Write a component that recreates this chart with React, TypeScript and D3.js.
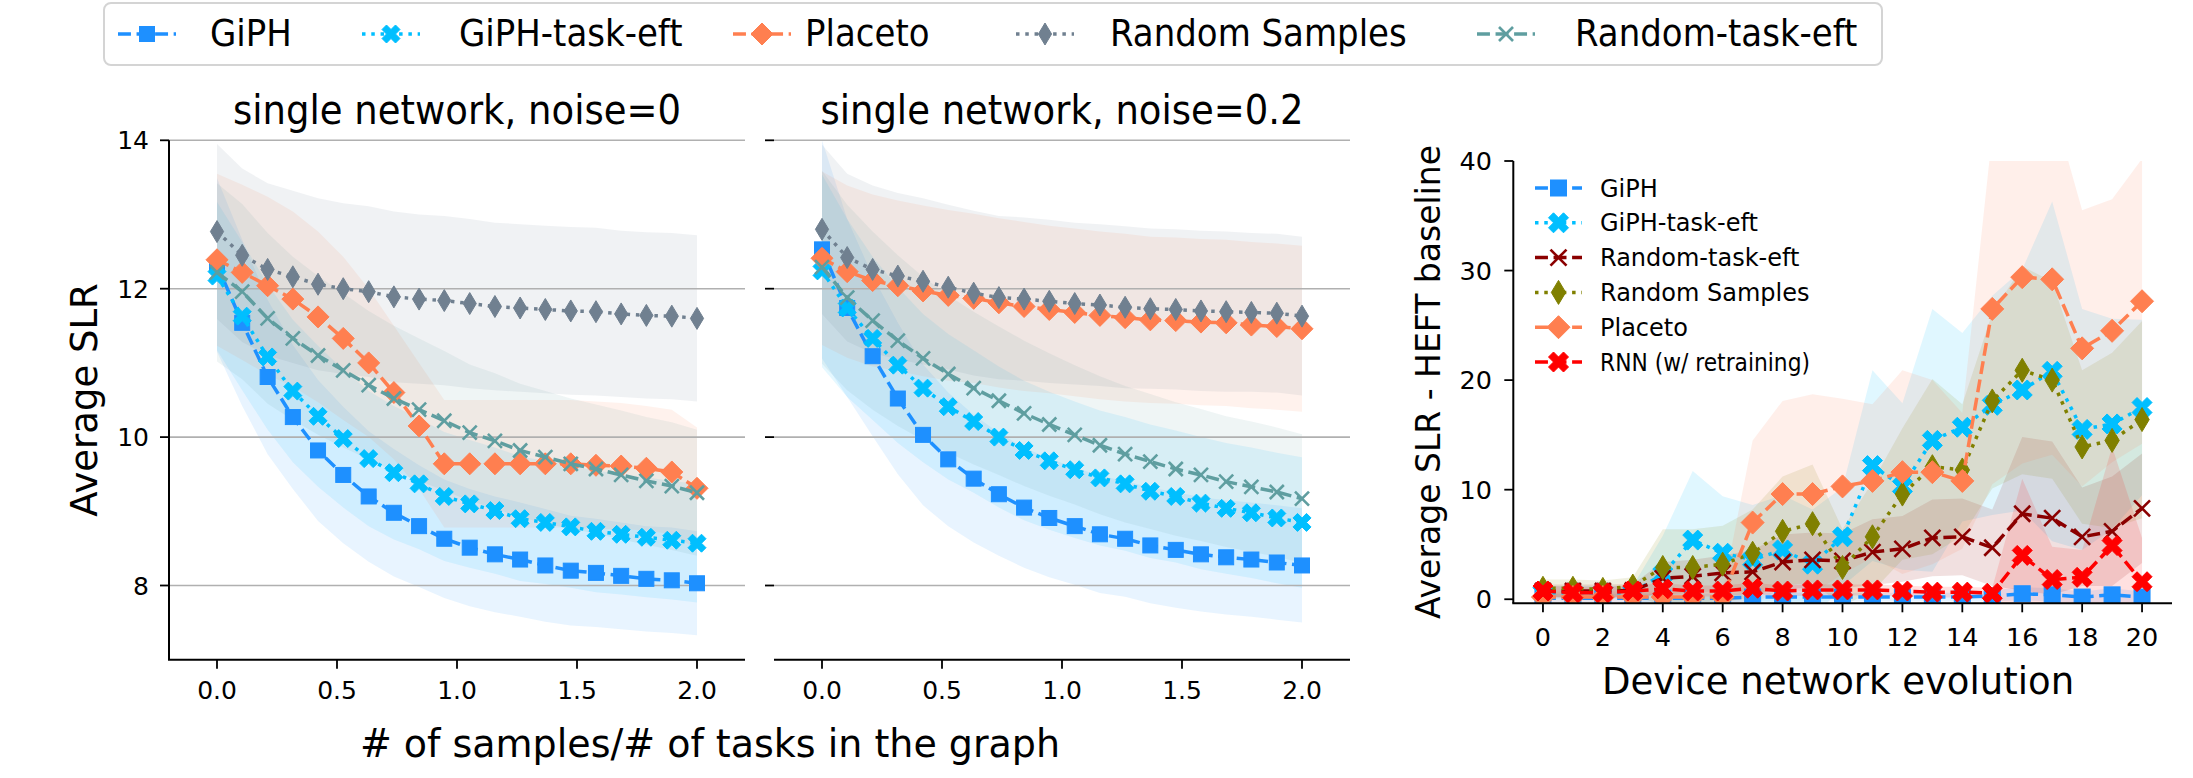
import React from 'react';
import * as d3 from 'd3';

// ---------- data ----------
const xFrac = [0, 0.105, 0.211, 0.316, 0.421, 0.526, 0.632, 0.737, 0.842, 0.947, 1.053, 1.158, 1.263, 1.368, 1.474, 1.579, 1.684, 1.789, 1.895, 2.0];
const fracTicks = [0.0, 0.5, 1.0, 1.5, 2.0];
const slrTicks = [8, 10, 12, 14];

// panel 1: noise = 0
const giph1 = [12.32, 11.54, 10.81, 10.27, 9.82, 9.49, 9.20, 8.98, 8.80, 8.63, 8.51, 8.42, 8.35, 8.27, 8.20, 8.17, 8.13, 8.09, 8.07, 8.03];
const giph1Sd = [1.17, 1.12, 1.04, 0.97, 0.95, 0.92, 0.88, 0.86, 0.82, 0.80, 0.79, 0.78, 0.77, 0.76, 0.74, 0.73, 0.72, 0.71, 0.71, 0.70];
const giphTask1 = [12.17, 11.63, 11.08, 10.62, 10.28, 9.98, 9.71, 9.52, 9.37, 9.20, 9.10, 9.01, 8.90, 8.85, 8.79, 8.73, 8.69, 8.65, 8.61, 8.57];
const giphTask1Sd = [1.0, 1.0, 0.98, 0.96, 0.95, 0.93, 0.91, 0.9, 0.88, 0.87, 0.86, 0.85, 0.84, 0.83, 0.82, 0.82, 0.81, 0.81, 0.8, 0.8];
const placeto1 = [12.39, 12.22, 12.04, 11.86, 11.62, 11.33, 11.00, 10.60, 10.15, 9.64, 9.64, 9.64, 9.64, 9.64, 9.64, 9.62, 9.61, 9.58, 9.53, 9.31];
const placeto1Sd = [1.16, 1.18, 1.2, 1.18, 1.15, 1.1, 1.0, 0.9, 0.85, 0.86, 0.86, 0.86, 0.86, 0.86, 0.86, 0.86, 0.85, 0.84, 0.84, 0.82];
const randSamp1 = [12.77, 12.45, 12.26, 12.16, 12.06, 12.00, 11.96, 11.89, 11.86, 11.84, 11.80, 11.76, 11.74, 11.72, 11.70, 11.69, 11.66, 11.64, 11.63, 11.60];
const randSamp1Sd = [1.18, 1.17, 1.16, 1.16, 1.16, 1.15, 1.15, 1.15, 1.14, 1.14, 1.14, 1.13, 1.13, 1.13, 1.13, 1.13, 1.12, 1.12, 1.12, 1.12];
const randTask1 = [12.22, 11.96, 11.60, 11.33, 11.10, 10.90, 10.70, 10.52, 10.37, 10.22, 10.06, 9.95, 9.82, 9.73, 9.64, 9.57, 9.49, 9.41, 9.34, 9.25];
const randTask1Sd = [1.2, 1.18, 1.15, 1.1, 1.07, 1.04, 1.0, 0.98, 0.96, 0.94, 0.92, 0.91, 0.9, 0.89, 0.88, 0.87, 0.87, 0.86, 0.86, 0.85];

// panel 2: noise = 0.2
const giph2 = [12.53, 11.74, 11.09, 10.52, 10.03, 9.70, 9.44, 9.23, 9.05, 8.91, 8.80, 8.69, 8.63, 8.54, 8.48, 8.42, 8.38, 8.35, 8.31, 8.27];
const giph2Sd = [1.47, 1.2, 1.08, 1.02, 0.95, 0.9, 0.86, 0.83, 0.81, 0.8, 0.79, 0.79, 0.78, 0.78, 0.78, 0.77, 0.77, 0.77, 0.77, 0.77];
const giphTask2 = [12.24, 11.74, 11.33, 10.97, 10.66, 10.41, 10.21, 10.00, 9.82, 9.68, 9.56, 9.45, 9.37, 9.27, 9.20, 9.11, 9.04, 8.98, 8.91, 8.85];
const giphTask2Sd = [1.3, 1.2, 1.1, 1.05, 1.0, 0.98, 0.96, 0.95, 0.94, 0.93, 0.92, 0.91, 0.9, 0.9, 0.89, 0.89, 0.88, 0.88, 0.88, 0.88];
const placeto2 = [12.41, 12.23, 12.11, 12.04, 11.97, 11.91, 11.87, 11.81, 11.76, 11.72, 11.68, 11.64, 11.61, 11.58, 11.57, 11.55, 11.54, 11.51, 11.49, 11.46];
const placeto2Sd = [1.17, 1.16, 1.16, 1.15, 1.15, 1.15, 1.14, 1.14, 1.14, 1.13, 1.13, 1.13, 1.13, 1.12, 1.12, 1.12, 1.12, 1.12, 1.12, 1.12];
const randSamp2 = [12.80, 12.42, 12.26, 12.17, 12.10, 12.02, 11.94, 11.88, 11.86, 11.83, 11.80, 11.78, 11.75, 11.73, 11.72, 11.70, 11.69, 11.68, 11.67, 11.63];
const randSamp2Sd = [1.14, 1.13, 1.13, 1.12, 1.12, 1.11, 1.11, 1.1, 1.1, 1.1, 1.09, 1.09, 1.09, 1.08, 1.08, 1.08, 1.08, 1.07, 1.07, 1.07];
const randTask2 = [12.29, 11.88, 11.57, 11.30, 11.06, 10.85, 10.66, 10.49, 10.32, 10.17, 10.03, 9.89, 9.77, 9.67, 9.57, 9.49, 9.40, 9.33, 9.26, 9.17];
const randTask2Sd = [1.3, 1.25, 1.2, 1.15, 1.1, 1.06, 1.03, 1.0, 0.98, 0.96, 0.94, 0.93, 0.92, 0.91, 0.9, 0.89, 0.88, 0.88, 0.87, 0.87];

// panel 3: device network evolution
const evo = [0, 1, 2, 3, 4, 5, 6, 7, 8, 9, 10, 11, 12, 13, 14, 15, 16, 17, 18, 19, 20];
const evoTicks = [0, 2, 4, 6, 8, 10, 12, 14, 16, 18, 20];
const diffTicks = [0, 10, 20, 30, 40];
const giph3 = [0.1, 0.1, 0.1, 0.1, 0.1, 0.1, 0.1, 0.2, 0.2, 0.2, 0.2, 0.2, 0.2, 0.2, 0.2, 0.3, 0.5, 0.4, 0.2, 0.4, 0.2];
const giph3Sd = [0.4, 0.4, 0.4, 0.4, 0.4, 0.4, 0.4, 0.4, 0.4, 0.4, 0.4, 0.4, 0.4, 0.4, 0.4, 0.5, 0.6, 0.6, 0.5, 0.6, 0.5];
const giphTask3 = [0.6, 0.6, 0.6, 0.6, 2.3, 5.4, 4.2, 3.6, 4.5, 3.2, 5.7, 12.2, 10.3, 14.5, 15.7, 17.7, 19.1, 20.8, 15.5, 16.0, 17.5];
const giphTask3Sd = [0.6, 0.6, 0.6, 0.6, 3.5, 6.3, 5.2, 5.0, 5.0, 5.0, 4.5, 8.7, 7.6, 12.0, 8.6, 10.0, 11.0, 15.5, 11.0, 9.6, 8.0];
const randTask3 = [0.75, 0.75, 0.75, 0.8, 1.9, 2.1, 2.4, 2.5, 3.4, 3.6, 3.5, 4.3, 4.6, 5.6, 5.7, 4.7, 7.8, 7.4, 5.7, 6.2, 8.3];
const randTask3Sd = [0.6, 0.6, 0.6, 0.6, 1.5, 1.5, 1.6, 2.0, 2.5, 2.5, 2.5, 3.0, 3.0, 3.5, 3.5, 3.5, 7.0, 7.0, 4.5, 5.0, 5.0];
const randSamp3 = [1.0, 1.0, 0.9, 1.2, 2.9, 2.9, 3.2, 4.2, 6.2, 6.9, 2.9, 5.7, 9.6, 12.1, 11.8, 18.1, 20.9, 20.0, 13.9, 14.5, 16.4];
const randSamp3Sd = [0.8, 0.8, 0.8, 0.8, 3.5, 3.5, 3.5, 4.0, 5.0, 5.4, 3.5, 5.0, 6.0, 8.0, 6.0, 8.0, 9.5, 9.0, 7.0, 8.0, 9.0];
const placeto3 = [0.2, 0.2, 0.2, 0.2, 0.2, 0.2, 0.2, 7.0, 9.6, 9.6, 10.3, 10.8, 11.6, 11.6, 10.8, 26.5, 29.4, 29.2, 22.9, 24.5, 27.2];
const placeto3Sd = [0.5, 0.5, 0.5, 0.5, 0.5, 0.5, 0.5, 7.5, 8.5, 9.1, 8.0, 7.0, 9.3, 8.4, 6.2, 16, 17, 16, 12.6, 12, 13];
const rnn3 = [0.75, 0.6, 0.6, 0.75, 0.95, 0.75, 0.75, 1.0, 0.75, 0.85, 0.85, 0.85, 0.75, 0.65, 0.65, 0.55, 4.0, 1.8, 2.0, 4.9, 1.6];
const rnn3Sd = [0.5, 0.5, 0.5, 0.5, 0.5, 0.5, 0.5, 0.5, 0.5, 0.5, 0.5, 0.5, 0.5, 0.5, 0.5, 0.5, 7.0, 3.0, 2.5, 9.0, 4.0];

// ---------- styles ----------
const FONT = '"DejaVu Sans", "Liberation Sans", sans-serif';
const LW = 3.5;
const DASH = `${3.7 * LW},${1.6 * LW}`;
const DOT = `${1 * LW},${1.65 * LW}`;

const C = {
  giph: '#1E90FF', giphTask: '#00BFFF', placeto: '#FF7F50', randSamp: '#708090',
  randTask: '#5F9EA0', randTask3: '#8B0000', randSamp3: '#808000', rnn: '#FF0000',
};

type Kind = 'square' | 'Xfill' | 'diamond' | 'thin' | 'x';
interface Series { name: string; color: string; dash: string; marker: Kind; mean: number[]; sd: number[]; }

const panel1Series: Series[] = [
  { name: 'GiPH', color: C.giph, dash: DASH, marker: 'square', mean: giph1, sd: giph1Sd },
  { name: 'GiPH-task-eft', color: C.giphTask, dash: DOT, marker: 'Xfill', mean: giphTask1, sd: giphTask1Sd },
  { name: 'Placeto', color: C.placeto, dash: DASH, marker: 'diamond', mean: placeto1, sd: placeto1Sd },
  { name: 'Random Samples', color: C.randSamp, dash: DOT, marker: 'thin', mean: randSamp1, sd: randSamp1Sd },
  { name: 'Random-task-eft', color: C.randTask, dash: DASH, marker: 'x', mean: randTask1, sd: randTask1Sd },
];
const panel2Series: Series[] = [
  { name: 'GiPH', color: C.giph, dash: DASH, marker: 'square', mean: giph2, sd: giph2Sd },
  { name: 'GiPH-task-eft', color: C.giphTask, dash: DOT, marker: 'Xfill', mean: giphTask2, sd: giphTask2Sd },
  { name: 'Placeto', color: C.placeto, dash: DASH, marker: 'diamond', mean: placeto2, sd: placeto2Sd },
  { name: 'Random Samples', color: C.randSamp, dash: DOT, marker: 'thin', mean: randSamp2, sd: randSamp2Sd },
  { name: 'Random-task-eft', color: C.randTask, dash: DASH, marker: 'x', mean: randTask2, sd: randTask2Sd },
];
const panel3Series: Series[] = [
  { name: 'GiPH', color: C.giph, dash: DASH, marker: 'square', mean: giph3, sd: giph3Sd },
  { name: 'GiPH-task-eft', color: C.giphTask, dash: DOT, marker: 'Xfill', mean: giphTask3, sd: giphTask3Sd },
  { name: 'Random-task-eft', color: C.randTask3, dash: DASH, marker: 'x', mean: randTask3, sd: randTask3Sd },
  { name: 'Random Samples', color: C.randSamp3, dash: DOT, marker: 'thin', mean: randSamp3, sd: randSamp3Sd },
  { name: 'Placeto', color: C.placeto, dash: DASH, marker: 'diamond', mean: placeto3, sd: placeto3Sd },
  { name: 'RNN (w/ retraining)', color: C.rnn, dash: DASH, marker: 'Xfill', mean: rnn3, sd: rnn3Sd },
];

const MS12: Record<Kind, number> = { square: 15, Xfill: 18, diamond: 22, thin: 22, x: 14 };
const MS3: Record<Kind, number> = { square: 16, Xfill: 20, diamond: 23, thin: 24, x: 16 };

const XPTS = [[-0.25, -0.5], [0, -0.25], [0.25, -0.5], [0.5, -0.25], [0.25, 0], [0.5, 0.25], [0.25, 0.5], [0, 0.25], [-0.25, 0.5], [-0.5, 0.25], [-0.25, 0], [-0.5, -0.25]];

function Marker({ kind, x, y, color, s }: { kind: Kind; x: number; y: number; color: string; s: number }) {
  if (kind === 'square') return <rect x={x - s / 2} y={y - s / 2} width={s} height={s} fill={color} stroke={color} strokeWidth={1} />;
  if (kind === 'Xfill') {
    const pts = XPTS.map(([a, b]) => `${x + a * s},${y + b * s}`).join(' ');
    return <polygon points={pts} fill={color} stroke={color} strokeWidth={1} strokeLinejoin="miter" />;
  }
  if (kind === 'diamond') return <polygon points={`${x},${y - s / 2} ${x + s / 2},${y} ${x},${y + s / 2} ${x - s / 2},${y}`} fill={color} stroke={color} strokeWidth={1} />;
  if (kind === 'thin') return <polygon points={`${x},${y - s / 2} ${x + s * 0.3},${y} ${x},${y + s / 2} ${x - s * 0.3},${y}`} fill={color} stroke={color} strokeWidth={1} />;
  return (
    <g stroke={color} strokeWidth={2.6}>
      <line x1={x - s / 2} y1={y - s / 2} x2={x + s / 2} y2={y + s / 2} />
      <line x1={x - s / 2} y1={y + s / 2} x2={x + s / 2} y2={y - s / 2} />
    </g>
  );
}

function T({ x, y, size, anchor = 'start', rotate = 0, sy = 1, children, textLength }: any) {
  let tr = `translate(${x},${y})`;
  if (rotate) tr += ` rotate(${rotate})`;
  if (sy !== 1) tr += ` scale(1,${sy})`;
  return (
    <text transform={tr} fontSize={size} textAnchor={anchor} fontFamily={FONT} fill="#000"
      textLength={textLength} lengthAdjust={textLength ? 'spacingAndGlyphs' : undefined}>{children}</text>
  );
}

function SeriesBands({ series, xs, x, y, alpha, clipId }: any) {
  return (
    <g clipPath={clipId ? `url(#${clipId})` : undefined}>
      {series.map((s: Series, k: number) => {
        const area = d3.area<number>()
          .x((_, i) => x(xs[i]))
          .y0((_, i) => y(s.mean[i] - s.sd[i]))
          .y1((_, i) => y(s.mean[i] + s.sd[i]));
        return <path key={k} d={area(s.mean) || ''} fill={s.color} fillOpacity={alpha} stroke="none" />;
      })}
    </g>
  );
}

function SeriesLines({ series, xs, x, y, ms }: any) {
  return (
    <g>
      {series.map((s: Series, k: number) => {
        const line = d3.line<number>().x((_, i) => x(xs[i])).y((d) => y(d));
        return (
          <g key={k}>
            <path d={line(s.mean) || ''} fill="none" stroke={s.color} strokeWidth={LW} strokeDasharray={s.dash} />
            {s.mean.map((v, i) => <Marker key={i} kind={s.marker} x={x(xs[i])} y={y(v)} color={s.color} s={ms[s.marker]} />)}
          </g>
        );
      })}
    </g>
  );
}

function SlrPanel({ series, left, showLeft, title }: { series: Series[]; left: number; showLeft: boolean; title: string }) {
  const x = d3.scaleLinear().domain([-0.2, 2.2]).range([left, left + 576]);
  const y = d3.scaleLinear().domain([7, 14]).range([659.7, 140.3]);
  const [x0, x1] = x.range();
  return (
    <g>
      <SeriesBands series={series} xs={xFrac} x={x} y={y} alpha={0.1} />
      {slrTicks.map((t) => (
        <line key={t} x1={x0} x2={x1} y1={y(t)} y2={y(t)} stroke="#b0b0b0" strokeWidth={1.6} />
      ))}
      <SeriesLines series={series} xs={xFrac} x={x} y={y} ms={MS12} />
      {showLeft && <line x1={x0} x2={x0} y1={140.3} y2={659.7} stroke="#000" strokeWidth={2} />}
      <line x1={x0 - (showLeft ? 1 : 0)} x2={x1} y1={659.7} y2={659.7} stroke="#000" strokeWidth={2} />
      {slrTicks.map((t) => (
        <g key={t}>
          <line x1={x0 - 9} x2={x0} y1={y(t)} y2={y(t)} stroke="#000" strokeWidth={1.8} />
          {showLeft && <T x={x0 - 20} y={y(t) + 9} size={25} anchor="end">{t}</T>}
        </g>
      ))}
      {fracTicks.map((t) => (
        <g key={t}>
          <line x1={x(t)} x2={x(t)} y1={659.7} y2={668.7} stroke="#000" strokeWidth={1.8} />
          <T x={x(t)} y={699} size={25} anchor="middle">{t.toFixed(1)}</T>
        </g>
      ))}
      <T x={(x0 + x1) / 2} y={124} size={37} anchor="middle" sy={1.08}>{title}</T>
    </g>
  );
}

function EvoPanel() {
  const x = d3.scaleLinear().domain([-1, 21]).range([1513, 2172]);
  const y = d3.scaleLinear().domain([-0.37, 40]).range([603.3, 161]);
  const legY0 = 188;
  const legStep = 34.8;
  return (
    <g>
      <defs>
        <clipPath id="clip3"><rect x={1513} y={161} width={659} height={442.3} /></clipPath>
      </defs>
      <SeriesBands series={panel3Series} xs={evo} x={x} y={y} alpha={0.12} clipId="clip3" />
      <g clipPath="url(#clip3)">
        <SeriesLines series={panel3Series} xs={evo} x={x} y={y} ms={MS3} />
      </g>
      <line x1={1513.3} x2={1513.3} y1={161} y2={603.3} stroke="#000" strokeWidth={2} />
      <line x1={1512.3} x2={2172} y1={603.3} y2={603.3} stroke="#000" strokeWidth={2} />
      {diffTicks.map((t) => (
        <g key={t}>
          <line x1={1504.3} x2={1513.3} y1={y(t)} y2={y(t)} stroke="#000" strokeWidth={1.8} />
          <T x={1492} y={y(t) + 9} size={25.5} anchor="end">{t}</T>
        </g>
      ))}
      {evoTicks.map((t) => (
        <g key={t}>
          <line x1={x(t)} x2={x(t)} y1={603.3} y2={612.3} stroke="#000" strokeWidth={1.8} />
          <T x={x(t)} y={646} size={25.5} anchor="middle">{t}</T>
        </g>
      ))}
      <T x={1838} y={694} size={37} anchor="middle">Device network evolution</T>
      <T x={1440} y={382} size={33} anchor="middle" rotate={-90}>Average SLR - HEFT baseline</T>
      {panel3Series.map((s, i) => {
        const ly = legY0 + i * legStep;
        return (
          <g key={s.name}>
            <line x1={1535} x2={1582} y1={ly} y2={ly} stroke={s.color} strokeWidth={LW} strokeDasharray={s.dash} />
            <Marker kind={s.marker} x={1558.5} y={ly} color={s.color} s={MS3[s.marker]} />
            <T x={1600} y={ly + 8.5} size={24} textLength={s.name.startsWith('RNN') ? 210 : undefined}>{s.name}</T>
          </g>
        );
      })}
    </g>
  );
}

const topLegend = [
  { s: panel1Series[0], mx: 147, tx: 210 },
  { s: panel1Series[1], mx: 391, tx: 459 },
  { s: panel1Series[2], mx: 762, tx: 805 },
  { s: panel1Series[3], mx: 1045, tx: 1110 },
  { s: panel1Series[4], mx: 1506, tx: 1575 },
];

export default function App() {
  return (
    <svg width={2193} height={778} viewBox="0 0 2193 778" style={{ display: 'block', position: 'absolute', left: 0, top: 0, background: '#fff' }}>
      <rect x={0} y={0} width={2193} height={778} fill="#fff" />
      <rect x={104} y={3} width={1778} height={62} rx={7} fill="#fff" stroke="#d4d4d4" strokeWidth={2} />
      {topLegend.map(({ s, mx, tx }) => (
        <g key={s.name}>
          <line x1={mx - 29} x2={mx + 29} y1={34} y2={34} stroke={s.color} strokeWidth={LW} strokeDasharray={s.dash} />
          <Marker kind={s.marker} x={mx} y={34} color={s.color} s={MS12[s.marker]} />
          <T x={tx} y={46} size={34} sy={1.1}>{s.name}</T>
        </g>
      ))}
      <SlrPanel series={panel1Series} left={169} showLeft={true} title="single network, noise=0" />
      <SlrPanel series={panel2Series} left={774} showLeft={false} title="single network, noise=0.2" />
      <T x={97} y={400} size={37} anchor="middle" rotate={-90}>Average SLR</T>
      <T x={710} y={757} size={38} anchor="middle" sy={1.05}># of samples/# of tasks in the graph</T>
      <EvoPanel />
    </svg>
  );
}
